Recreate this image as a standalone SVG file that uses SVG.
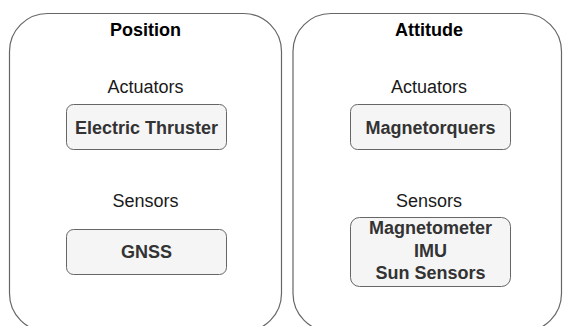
<svg xmlns="http://www.w3.org/2000/svg" width="563" height="326" viewBox="0 0 563 326">
<style>
.cont{fill:#ffffff;stroke:#666666;stroke-width:1.2}
.box{fill:#f5f5f5;stroke:#666666;stroke-width:1}
.title{font-family:"Liberation Sans",Arial,sans-serif;font-size:18px;font-weight:bold;fill:#000;text-anchor:middle}
.lbl{font-family:"Liberation Sans",Arial,sans-serif;font-size:18px;fill:#1a1a1a;text-anchor:middle}
.nt{font-family:"Liberation Sans",Arial,sans-serif;font-size:18px;font-weight:bold;fill:#333333;text-anchor:middle}
</style>
<rect width="563" height="326" fill="#ffffff"/>
<g id="position">
<rect class="cont" x="9.5" y="13.5" width="272" height="318" rx="38" ry="38"/>
<text class="title" x="145.5" y="36">Position</text>
<text class="lbl" x="145.5" y="93">Actuators</text>
<text class="lbl" x="145.5" y="207">Sensors</text>
</g>
<g id="electric-thruster">
<rect class="box" x="66.5" y="104.5" width="160" height="45" rx="7" ry="7"/>
<text class="nt" x="146.5" y="133.5">Electric Thruster</text>
</g>
<g id="gnss">
<rect class="box" x="66.5" y="229.5" width="160" height="45" rx="7" ry="7"/>
<text class="nt" x="146.5" y="258">GNSS</text>
</g>
<g id="attitude">
<rect class="cont" x="293" y="13.5" width="268.5" height="318" rx="38" ry="38"/>
<text class="title" x="429" y="36">Attitude</text>
<text class="lbl" x="429" y="93">Actuators</text>
<text class="lbl" x="429" y="207">Sensors</text>
</g>
<g id="magnetorquers">
<rect class="box" x="350.5" y="104.5" width="160" height="45" rx="7" ry="7"/>
<text class="nt" x="430.5" y="133.5">Magnetorquers</text>
</g>
<g id="attitude-sensors">
<rect class="box" x="350.5" y="217.5" width="160" height="69" rx="9" ry="9"/>
<text class="nt" x="430.5" y="234">Magnetometer</text>
<text class="nt" x="430.5" y="257">IMU</text>
<text class="nt" x="430.5" y="279">Sun Sensors</text>
</g>
<g id="connectors"></g>
</svg>
